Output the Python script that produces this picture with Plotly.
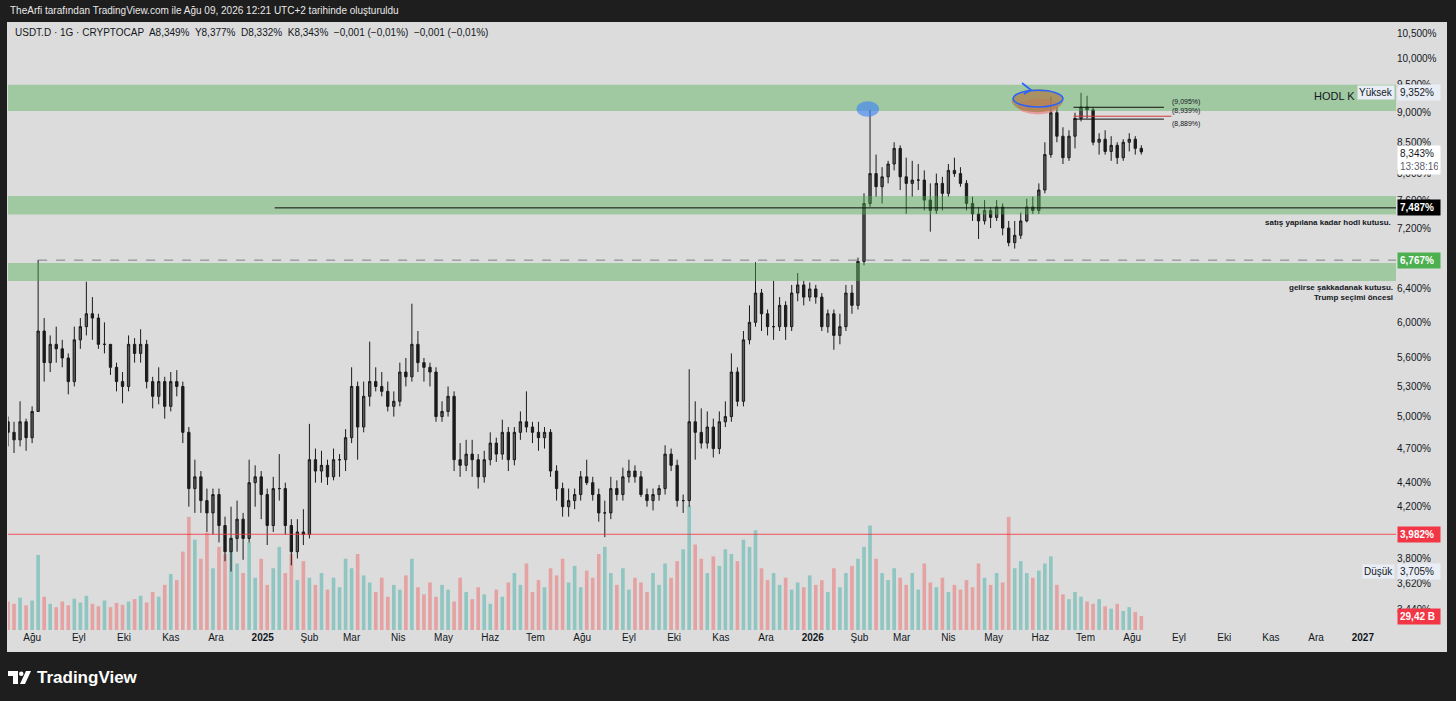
import math
import pandas as pd
import plotly.graph_objects as go

# ---------------- data (4-day candles, USDT.D %) ----------------
first_open = 4.95
close = [4.85, 4.78, 4.95, 4.80, 5.05, 5.90, 5.55, 5.75, 5.70, 5.60,
         5.35, 5.80, 5.95, 6.10, 6.05, 5.75, 5.75, 5.50, 5.35, 5.30,
         5.75, 5.65, 5.75, 5.35, 5.20, 5.35, 5.10, 5.35, 5.30, 4.85,
         4.35, 4.45, 4.25, 4.15, 4.30, 4.05, 3.85, 3.95, 4.10, 3.95,
         4.40, 4.45, 4.30, 4.05, 4.35, 4.35, 4.05, 3.85, 4.00, 3.98,
         4.60, 4.50, 4.55, 4.45, 4.60, 4.60, 4.80, 5.30, 4.90, 5.20,
         5.35, 5.30, 5.25, 5.10, 5.15, 5.45, 5.40, 5.75, 5.55, 5.50,
         5.45, 5.00, 5.05, 5.20, 4.60, 4.55, 4.65, 4.60, 4.45, 4.60,
         4.75, 4.65, 4.85, 4.60, 4.85, 4.95, 4.90, 4.85, 4.80, 4.85,
         4.50, 4.35, 4.20, 4.25, 4.30, 4.45, 4.40, 4.30, 4.15, 4.15,
         4.35, 4.30, 4.45, 4.50, 4.45, 4.30, 4.25, 4.30, 4.35, 4.65,
         4.55, 4.25, 4.25, 4.95, 4.85, 4.75, 4.90, 4.70, 4.95, 5.00,
         5.45, 5.15, 5.80, 6.00, 6.35, 6.10, 5.95, 5.95, 6.20, 5.95,
         6.35, 6.45, 6.30, 6.40, 6.30, 5.95, 6.10, 5.85, 5.95, 6.35,
         6.20, 6.75, 7.55, 8.00, 7.80, 7.95, 8.15, 8.40, 7.95, 7.85,
         7.90, 7.90, 7.60, 7.45, 7.85, 7.70, 8.05, 8.00, 7.85, 7.55,
         7.40, 7.30, 7.45, 7.35, 7.50, 7.20, 7.00, 7.10, 7.30, 7.50,
         7.45, 7.75, 8.30, 9.00, 8.60, 8.25, 8.60, 8.90, 9.10, 9.05,
         8.50, 8.55, 8.35, 8.45, 8.25, 8.50, 8.55, 8.40, 8.343]
high = [5.00, 4.95, 5.15, 4.98, 5.10, 6.77, 6.05, 5.85, 5.95, 5.80,
        5.65, 5.95, 6.05, 6.49, 6.30, 6.10, 6.00, 5.75, 5.55, 5.45,
        5.85, 5.82, 5.92, 5.80, 5.40, 5.50, 5.40, 5.45, 5.47, 5.35,
        4.90, 4.60, 4.50, 4.35, 4.35, 4.35, 4.12, 4.20, 4.25, 4.15,
        4.60, 4.55, 4.50, 4.35, 4.45, 4.65, 4.40, 4.10, 4.10, 4.18,
        4.93, 4.70, 4.68, 4.60, 4.70, 4.65, 4.88, 5.50, 5.35, 5.35,
        5.78, 5.50, 5.45, 5.35, 5.25, 5.55, 5.60, 6.22, 5.90, 5.60,
        5.55, 5.50, 5.15, 5.30, 5.25, 4.75, 4.78, 4.78, 4.65, 4.68,
        4.85, 4.80, 4.97, 4.90, 4.90, 5.05, 5.25, 4.95, 4.95, 4.90,
        4.88, 4.55, 4.40, 4.35, 4.35, 4.50, 4.60, 4.45, 4.35, 4.25,
        4.45, 4.42, 4.53, 4.60, 4.55, 4.50, 4.35, 4.35, 4.38, 4.73,
        4.70, 4.60, 4.30, 5.48, 5.15, 5.08, 5.05, 4.98, 5.05, 5.15,
        5.65, 5.50, 5.90, 6.20, 6.74, 6.40, 6.15, 6.50, 6.30, 6.25,
        6.45, 6.60, 6.50, 6.48, 6.45, 6.35, 6.15, 6.15, 6.10, 6.45,
        6.45, 6.80, 7.70, 9.05, 8.30, 8.10, 8.20, 8.50, 8.45, 8.25,
        8.20, 8.15, 8.05, 7.85, 8.00, 7.95, 8.15, 8.25, 8.10, 7.90,
        7.65, 7.50, 7.60, 7.50, 7.60, 7.55, 7.30, 7.30, 7.42, 7.62,
        7.65, 7.85, 8.50, 9.28, 9.10, 8.75, 8.70, 9.00, 9.352, 9.30,
        9.10, 8.65, 8.70, 8.60, 8.50, 8.55, 8.65, 8.60, 8.45]
low = [4.72, 4.66, 4.72, 4.68, 4.75, 5.05, 5.35, 5.45, 5.55, 5.50,
       5.22, 5.30, 5.70, 5.85, 5.80, 5.70, 5.65, 5.42, 5.25, 5.13,
       5.25, 5.55, 5.55, 5.28, 5.08, 5.12, 4.98, 5.05, 5.20, 4.75,
       4.20, 4.15, 4.15, 4.00, 3.98, 3.92, 3.78, 3.705, 3.85, 3.79,
       3.92, 4.20, 4.10, 3.90, 4.00, 4.25, 3.98, 3.75, 3.80, 3.90,
       3.95, 4.40, 4.40, 4.38, 4.42, 4.45, 4.50, 4.75, 4.60, 4.85,
       5.10, 5.25, 5.20, 5.05, 5.00, 5.10, 5.30, 5.35, 5.45, 5.35,
       5.30, 4.95, 4.95, 5.00, 4.50, 4.45, 4.50, 4.45, 4.35, 4.40,
       4.55, 4.58, 4.60, 4.50, 4.55, 4.78, 4.85, 4.75, 4.68, 4.70,
       4.45, 4.25, 4.12, 4.12, 4.18, 4.25, 4.38, 4.25, 4.08, 3.96,
       4.10, 4.25, 4.25, 4.40, 4.40, 4.28, 4.20, 4.17, 4.25, 4.30,
       4.50, 4.20, 4.15, 4.20, 4.60, 4.70, 4.70, 4.62, 4.65, 4.90,
       4.95, 5.10, 5.10, 5.75, 5.95, 5.90, 5.85, 5.80, 5.90, 5.80,
       5.90, 6.25, 6.20, 6.25, 6.22, 5.90, 5.88, 5.69, 5.75, 5.90,
       6.10, 6.15, 6.70, 7.50, 7.65, 7.55, 7.85, 8.05, 7.75, 7.40,
       7.65, 7.75, 7.45, 7.15, 7.40, 7.45, 7.65, 7.95, 7.80, 7.45,
       7.30, 7.05, 7.25, 7.20, 7.30, 7.10, 6.95, 6.92, 7.05, 7.28,
       7.40, 7.40, 7.70, 8.25, 8.50, 8.15, 8.20, 8.40, 8.85, 8.90,
       8.45, 8.30, 8.30, 8.20, 8.15, 8.20, 8.35, 8.30, 8.30]
volume = [60, 55, 68, 52, 62, 158,
          70, 55, 48, 60, 52, 66, 58, 72, 55, 50, 62, 48, 57, 53, 60,
          65, 72, 58, 80, 70, 95, 118, 105,
          165, 238, 190,
          150, 205, 130, 175, 160, 195, 140,
          120, 185, 110, 150, 95, 130,
          175, 120, 160, 105, 145, 110,
          95, 120, 85, 110, 90,
          150, 130, 160, 115, 100,
          80, 110, 70, 95, 85, 115, 150, 90, 75, 100,
          70, 95, 85, 60, 110, 80, 65, 90, 75, 55,
          85, 70, 100, 120, 95, 140, 80, 105, 90, 130,
          115, 150, 100, 135, 90, 125, 110, 160, 175, 120,
          95, 130, 85, 110, 100, 80, 120, 95, 140, 110, 145, 170,
          262,
          180, 150, 120, 155, 135, 170, 160, 145, 190, 175,
          210, 130, 105, 120, 95, 110, 85, 100, 90, 115,
          95, 105, 80, 130, 90, 120, 135, 150,
          175, 220,
          150, 120, 105, 130, 110, 95, 120, 85, 140, 100, 90, 110, 80, 95, 85, 105, 90,
          140, 110, 95, 120, 100, 238, 130, 145, 120, 110,
          125, 140, 155,
          95, 75, 65, 80, 70, 60, 55, 65, 50, 45, 55, 40, 48, 38, 29.42]

month_ticks = ["2024-08-01", "2024-09-01", "2024-10-01", "2024-11-01", "2024-12-01",
               "2025-01-01", "2025-02-01", "2025-03-01", "2025-04-01", "2025-05-01",
               "2025-06-01", "2025-07-01", "2025-08-01", "2025-09-01", "2025-10-01",
               "2025-11-01", "2025-12-01", "2026-01-01", "2026-02-01", "2026-03-01",
               "2026-04-01", "2026-05-01", "2026-06-01", "2026-07-01", "2026-08-01",
               "2026-09-01", "2026-10-01", "2026-11-01", "2026-12-01", "2027-01-01"]
month_labels = ["Ağu", "Eyl", "Eki", "Kas", "Ara", "<b>2025</b>", "Şub", "Mar", "Nis", "May",
                "Haz", "Tem", "Ağu", "Eyl", "Eki", "Kas", "Ara", "<b>2026</b>", "Şub", "Mar",
                "Nis", "May", "Haz", "Tem", "Ağu", "Eyl", "Eki", "Kas", "Ara", "<b>2027</b>"]
price_ticks = [10.5, 10.0, 9.5, 9.0, 8.5, 8.0, 7.6, 7.2, 6.4, 6.0, 5.6, 5.3,
               5.0, 4.7, 4.4, 4.2, 3.8, 3.62, 3.44]

zones = [(9.03, 9.50), (7.39, 7.66), (6.50, 6.73)]
hodl_level = 7.487
pre_election_level = 6.767
support_level = 3.982
top_levels = [9.095, 8.939, 8.889]
high_value = 9.352
low_value = 3.705
last_price = 8.343
last_volume = 29.42

# ---------------- figure ----------------
n = min(len(close), len(high), len(low), len(volume))
dates = pd.date_range("2024-07-16", periods=n, freq="4D")
opens = [first_open] + close[:n - 1]
X0, X1 = "2024-07-16", "2027-01-23"


def pct(v, d=3):
    return (f"{v:.{d}f}%").replace(".", ",")


fig = go.Figure()

vol_colors = ["rgba(38,166,154,0.42)" if c >= o else "rgba(239,83,80,0.42)"
              for o, c in zip(opens, close[:n])]
fig.add_trace(go.Bar(x=dates, y=volume[:n], marker=dict(color=vol_colors, line=dict(width=0)),
                     width=2.4 * 86400000, yaxis="y", hoverinfo="skip"))

fig.add_trace(go.Candlestick(
    x=dates, open=opens, high=high[:n], low=low[:n], close=close[:n], yaxis="y2",
    increasing=dict(line=dict(color="#1b1b1b", width=1), fillcolor="#5a5a5a"),
    decreasing=dict(line=dict(color="#1b1b1b", width=1), fillcolor="#1b1b1b"),
    whiskerwidth=0, hoverinfo="skip"))

for lo, hi in zones:
    fig.add_trace(go.Scatter(x=[X0, X1, X1, X0, X0], y=[lo, lo, hi, hi, lo], mode="lines",
                             fill="toself", fillcolor="rgba(76,175,80,0.42)",
                             line=dict(width=0), yaxis="y2", hoverinfo="skip"))

fig.add_trace(go.Scatter(x=["2024-08-05", X1], y=[pre_election_level] * 2, mode="lines",
                         line=dict(color="#7d8088", width=1, dash="dash"), yaxis="y2", hoverinfo="skip"))
fig.add_trace(go.Scatter(x=["2025-01-09", X1], y=[hodl_level] * 2, mode="lines",
                         line=dict(color="#0c0c0c", width=1), yaxis="y2", hoverinfo="skip"))
fig.add_trace(go.Scatter(x=[X0, X1], y=[support_level] * 2, mode="lines",
                         line=dict(color="rgba(242,54,69,0.85)", width=1), yaxis="y2", hoverinfo="skip"))
top_colors = ["#111111", "#d23a3a", "#111111"]
top_ends = ["2026-08-22", "2026-08-27", "2026-08-22"]
for lv, col, end in zip(top_levels, top_colors, top_ends):
    fig.add_trace(go.Scatter(x=["2026-06-23", end], y=[lv, lv], mode="lines",
                             line=dict(color=col, width=1), yaxis="y2", hoverinfo="skip"))

# ---------------- shapes ----------------
W, H = 1388.0, 608.0


def px(x):
    return (x - 8) / W


def py(y):
    return (630 - y) / H


shapes = [
    dict(type="rect", xref="paper", yref="paper", x0=px(7), x1=px(1447), y0=py(652), y1=1,
         fillcolor="#dcdcdc", line=dict(width=0), layer="below"),
    dict(type="circle", xref="x", yref="y2", x0="2026-01-30", x1="2026-02-14",
         y0=8.93, y1=9.20, fillcolor="rgba(66,133,244,0.65)", line=dict(width=0)),
    dict(type="circle", xref="x", yref="y2", x0="2026-05-17", x1="2026-06-13",
         y0=8.97, y1=9.25, fillcolor="rgba(240,110,110,0.55)", line=dict(width=0)),
    dict(type="circle", xref="x", yref="y2", x0="2026-05-13", x1="2026-06-16",
         y0=9.01, y1=9.42, fillcolor="rgba(170,125,75,0.72)", line=dict(width=0)),
    dict(type="circle", xref="x", yref="y2", x0="2026-05-14", x1="2026-06-16",
         y0=9.10, y1=9.40, fillcolor="rgba(0,0,0,0)", line=dict(color="#2962ff", width=1.6)),
    dict(type="path", xref="paper", yref="paper",
         path=f"M {px(1022)},{py(83)} L {px(1031)},{py(90)} L {px(1024)},{py(94)}",
         line=dict(color="#2962ff", width=1.6)),
    # TradingView logo
    dict(type="rect", xref="paper", yref="paper", x0=px(8), x1=px(18), y0=py(676), y1=py(671),
         fillcolor="#ffffff", line=dict(width=0)),
    dict(type="rect", xref="paper", yref="paper", x0=px(13), x1=px(18), y0=py(684), y1=py(671),
         fillcolor="#ffffff", line=dict(width=0)),
    dict(type="circle", xref="paper", yref="paper", x0=px(19), x1=px(23.5), y0=py(676), y1=py(671.5),
         fillcolor="#ffffff", line=dict(width=0)),
    dict(type="path", xref="paper", yref="paper",
         path=f"M {px(20)},{py(684)} L {px(25)},{py(684)} L {px(31)},{py(671)} L {px(26)},{py(671)} Z",
         fillcolor="#ffffff", line=dict(width=0)),
]

# ---------------- annotations ----------------
AX = px(1397)
FONT = "Liberation Sans, Arial, sans-serif"
ann = []


def label(text, y, bg, fc, yref="y2", x=AX, xanchor="left", width=None, **kw):
    d = dict(text=text, x=x, xref="paper", y=y, yref=yref, xanchor=xanchor, yanchor="middle",
             showarrow=False, bgcolor=bg, font=dict(family=FONT, size=10, color=fc),
             borderpad=2, align="left")
    if width:
        d["width"] = width
    d.update(kw)
    ann.append(d)


# header + legend line
ann.append(dict(text="TheArfi tarafından TradingView.com ile Ağu 09, 2026 12:21 UTC+2 tarihinde oluşturuldu",
                x=0, xref="paper", y=py(11), yref="paper", xanchor="left", yanchor="middle",
                showarrow=False, font=dict(family=FONT, size=10, color="#e8e8e8")))
ann.append(dict(text="USDT.D · 1G · CRYPTOCAP  A8,349%  Y8,377%  D8,332%  K8,343%  −0,001 (−0,01%)  −0,001 (−0,01%)",
                x=px(13), xref="paper", y=py(33), yref="paper", xanchor="left", yanchor="middle",
                showarrow=False, font=dict(family=FONT, size=10, color="#131722")))
# texts in chart
ann.append(dict(text="HODL K", x=px(1357), xref="paper", y=math.log10(9.30), yref="y2",
                xanchor="right", yanchor="middle", showarrow=False,
                font=dict(family=FONT, size=11, color="#131722")))
ann.append(dict(text="<b>satış yapılana kadar hodl kutusu.</b>", x=px(1393), xref="paper", y=py(222),
                yref="paper", xanchor="right", yanchor="middle", showarrow=False,
                font=dict(family=FONT, size=8, color="#131722")))
ann.append(dict(text="<b>gelirse şakkadanak kutusu.<br>Trump seçimi öncesi</b>", x=px(1395), xref="paper",
                y=py(292), yref="paper", xanchor="right", yanchor="middle", showarrow=False, align="right",
                font=dict(family=FONT, size=8, color="#131722")))
for lv, anchor in zip(top_levels, ["bottom", "bottom", "top"]):
    ann.append(dict(text="(" + pct(lv) + ")", x="2026-08-27", xref="x", y=math.log10(lv), yref="y2",
                    xanchor="left", yanchor=anchor, showarrow=False, borderpad=0,
                    font=dict(family=FONT, size=7, color="#131722")))
# axis labels
label("Yüksek", math.log10(high_value), "#e9eef6", "#131722", x=px(1395), xanchor="right", borderpad=1)
label(pct(high_value), math.log10(high_value), "#e9eef6", "#131722", width=38)
label(pct(last_price) + "<br><span style='color:#5d606b'>13:38:16</span>", math.log10(last_price),
      "#ffffff", "#131722", width=38, yanchor="top", yshift=7)
label("<b>" + pct(hodl_level) + "</b>", math.log10(hodl_level), "#000000", "#ffffff", width=38)
label("<b>" + pct(pre_election_level) + "</b>", math.log10(pre_election_level), "#4caf50", "#ffffff", width=38)
label("<b>" + pct(support_level) + "</b>", math.log10(support_level), "#f23645", "#ffffff", width=38)
label("Düşük", math.log10(low_value), "#e9eef6", "#131722", x=px(1395), xanchor="right", borderpad=1)
label(pct(low_value), math.log10(low_value), "#e9eef6", "#131722", width=38)
label("<b>" + f"{last_volume:.2f}".replace(".", ",") + " B</b>", last_volume, "#f23645", "#ffffff",
      yref="y", width=38)
ann.append(dict(text="<b>TradingView</b>", x=px(35), xref="paper", y=py(677), yref="paper",
                xanchor="left", yanchor="middle", showarrow=False,
                font=dict(family=FONT, size=17, color="#ffffff")))

price_text = [pct(v) for v in price_ticks]

fig.update_layout(
    width=1456, height=701,
    margin=dict(l=8, r=60, t=22, b=71),
    paper_bgcolor="#1e1e1e", plot_bgcolor="#dcdcdc",
    showlegend=False, hovermode=False, boxgap=0.45,
    font=dict(family=FONT, size=10, color="#131722"),
    xaxis=dict(type="date", range=[X0, X1], tickvals=month_ticks, ticktext=month_labels,
               showgrid=False, zeroline=False, showline=False, ticks="",
               tickfont=dict(size=10, color="#131722"), rangeslider=dict(visible=False),
               fixedrange=True),
    yaxis=dict(range=[0, 1280], visible=False, fixedrange=True),
    yaxis2=dict(overlaying="y", side="right", type="log", range=[0.51969, 1.03044],
                tickvals=price_ticks, ticktext=price_text, showgrid=False, zeroline=False,
                showline=False, ticks="", tickfont=dict(size=10, color="#131722"), fixedrange=True),
    shapes=shapes, annotations=ann,
)

fig.write_html("out.html", config={"displayModeBar": False},
               post_script="document.body.style.margin='0';document.body.style.background='#1e1e1e';")
